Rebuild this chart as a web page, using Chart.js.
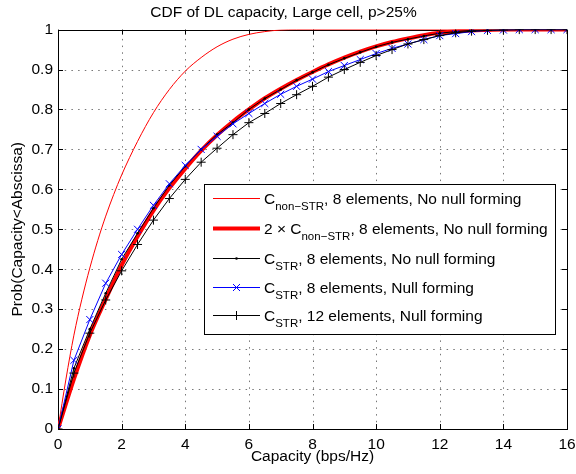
<!DOCTYPE html>
<html>
<head>
<meta charset="utf-8">
<script src="https://cdn.jsdelivr.net/npm/chart.js@4.4.1/dist/chart.umd.min.js"></script>
<style>
html, body { margin: 0; padding: 0; background: #fff; }
#wrap { width: 576px; height: 474px; }
</style>
</head>
<body>
<div id="wrap"><canvas id="cdf" width="576" height="474"></canvas></div>
<script>
const titleText = 'CDF of DL capacity, Large cell, p>25%';
const xLabel = 'Capacity (bps/Hz)';
const yLabel = 'Prob(Capacity<Abscissa)';
const FONT = '"Liberation Sans", Arial, Helvetica, sans-serif';
const FS = 15.5;

// thin red curve, sampled a bit denser near the origin
const xSingle = [0, 0.25, 0.5, 0.75, 1, 1.25, 1.5, 1.75, 2, 2.5, 3, 3.5, 4, 4.5, 5, 5.5, 6, 6.5, 7, 7.5, 8, 10, 12, 14, 16];
const cdfSingle = [0, 0.125, 0.235, 0.325, 0.403, 0.472, 0.533, 0.587, 0.636, 0.72, 0.792, 0.85, 0.896, 0.93, 0.957, 0.976, 0.988, 0.995, 0.999, 1, 1, 1, 1, 1, 1];

// the other curves share one x grid (markers every 0.5)
const xStep = [0, 0.5, 1, 1.5, 2, 2.5, 3, 3.5, 4, 4.5, 5, 5.5, 6, 6.5, 7, 7.5, 8,
               8.5, 9, 9.5, 10, 10.5, 11, 11.5, 12, 12.5, 13, 13.5, 14, 14.5, 15, 15.5, 16];
const cdfDouble = [0, 0.125, 0.235, 0.325, 0.41, 0.482, 0.547, 0.603, 0.652, 0.697, 0.736, 0.77, 0.8, 0.828, 0.852, 0.874, 0.894,
                   0.913, 0.93, 0.945, 0.958, 0.969, 0.978, 0.986, 0.992, 0.996, 0.998, 0.999, 1, 1, 1, 1, 1];
const cdfStr8 = [0, 0.152, 0.25, 0.34, 0.425, 0.49, 0.553, 0.61, 0.658, 0.7, 0.737, 0.767, 0.8, 0.8275, 0.85, 0.873, 0.893,
                 0.912, 0.928, 0.943, 0.957, 0.968, 0.976, 0.984, 0.991, 0.995, 0.998, 0.999, 1, 1, 1, 1, 1];
const cdfStr8Null = [0, 0.172, 0.274, 0.365, 0.437, 0.5, 0.56, 0.614, 0.66, 0.7, 0.733, 0.764, 0.79, 0.815, 0.838, 0.858, 0.876,
                     0.895, 0.91, 0.925, 0.94, 0.953, 0.964, 0.975, 0.985, 0.99, 0.995, 0.998, 0.999, 1, 1, 1, 1];
const cdfStr12Null = [0, 0.14, 0.24, 0.323, 0.396, 0.462, 0.523, 0.577, 0.625, 0.668, 0.703, 0.737, 0.767, 0.79, 0.815, 0.837, 0.858,
                      0.881, 0.9, 0.918, 0.935, 0.95, 0.964, 0.975, 0.985, 0.992, 0.996, 0.998, 0.999, 1, 1, 1, 1];

// legend rows: main text, subscript, rest
const legendItems = [
    { pre: 'C', sub: 'non\u2212STR', post: ', 8 elements, No null forming' },
    { pre: '2 \u00d7 C', sub: 'non\u2212STR', post: ', 8 elements, No null forming' },
    { pre: 'C', sub: 'STR', post: ', 8 elements, No null forming' },
    { pre: 'C', sub: 'STR', post: ', 8 elements, Null forming' },
    { pre: 'C', sub: 'STR', post: ', 12 elements, Null forming' }
];

const pts = (xs, ys) => xs.map((x, i) => ({ x: x, y: ys[i] }));

const datasets = [
    { data: pts(xSingle, cdfSingle), borderColor: '#ff0000', borderWidth: 1, pointRadius: 0,
      cubicInterpolationMode: 'monotone', order: 5 },
    { data: pts(xStep, cdfDouble), borderColor: '#ff0000', borderWidth: 4, pointRadius: 0,
      cubicInterpolationMode: 'monotone', order: 4 },
    { data: pts(xStep, cdfStr8), borderColor: '#000', borderWidth: 1, pointStyle: 'circle', pointRadius: 1.3,
      pointBackgroundColor: '#000', pointBorderColor: '#000', pointBorderWidth: 0, order: 3 },
    { data: pts(xStep, cdfStr8Null), borderColor: '#0000ff', borderWidth: 1, pointStyle: 'crossRot', pointRadius: 5,
      pointBorderColor: '#0000ff', pointBorderWidth: 1, order: 2 },
    { data: pts(xStep, cdfStr12Null), borderColor: '#000', borderWidth: 1, pointStyle: 'cross', pointRadius: 4.5,
      pointBorderColor: '#000', pointBorderWidth: 1, order: 1 }
];

// dotted grid, box and inward tick marks (drawn under the data, like matlab)
const framePlugin = {
    id: 'frame',
    beforeDatasetsDraw(chart) {
        const { ctx, chartArea: a, scales: { x, y } } = chart;
        ctx.save();
        ctx.lineWidth = 1;
        ctx.strokeStyle = '#777';
        ctx.setLineDash([1.5, 5.2]);
        x.ticks.forEach(t => {
            const px = Math.round(x.getPixelForValue(t.value)) + 0.5;
            ctx.beginPath(); ctx.moveTo(px, a.bottom); ctx.lineTo(px, a.top); ctx.stroke();
        });
        y.ticks.forEach(t => {
            const py = Math.round(y.getPixelForValue(t.value)) + 0.5;
            ctx.beginPath(); ctx.moveTo(a.left, py); ctx.lineTo(a.right, py); ctx.stroke();
        });
        ctx.setLineDash([]);
        ctx.strokeStyle = '#000';
        x.ticks.forEach(t => {
            const px = Math.round(x.getPixelForValue(t.value)) + 0.5;
            ctx.beginPath();
            ctx.moveTo(px, a.bottom); ctx.lineTo(px, a.bottom - 5);
            ctx.moveTo(px, a.top); ctx.lineTo(px, a.top + 5);
            ctx.stroke();
        });
        y.ticks.forEach(t => {
            const py = Math.round(y.getPixelForValue(t.value)) + 0.5;
            ctx.beginPath();
            ctx.moveTo(a.left, py); ctx.lineTo(a.left + 5, py);
            ctx.moveTo(a.right, py); ctx.lineTo(a.right - 5, py);
            ctx.stroke();
        });
        ctx.strokeRect(Math.round(a.left) + 0.5, Math.round(a.top) + 0.5,
                       Math.round(a.right - a.left), Math.round(a.bottom - a.top));
        ctx.restore();
    }
};

function drawMarker(ctx, style, cx, cy, color) {
    ctx.strokeStyle = color;
    ctx.fillStyle = color;
    ctx.lineWidth = 1;
    ctx.beginPath();
    if (style === 'dot') {
        ctx.arc(cx, cy, 1.3, 0, Math.PI * 2);
        ctx.fill();
    } else if (style === 'x') {
        ctx.moveTo(cx - 3.5, cy - 3.5); ctx.lineTo(cx + 3.5, cy + 3.5);
        ctx.moveTo(cx - 3.5, cy + 3.5); ctx.lineTo(cx + 3.5, cy - 3.5);
        ctx.stroke();
    } else if (style === 'plus') {
        ctx.moveTo(cx - 4.5, cy); ctx.lineTo(cx + 4.5, cy);
        ctx.moveTo(cx, cy - 4.5); ctx.lineTo(cx, cy + 4.5);
        ctx.stroke();
    }
}

// legend with subscripts
const legendPlugin = {
    id: 'subLegend',
    afterDraw(chart) {
        const ctx = chart.ctx;
        const box = { left: 204.5, top: 184.5, w: 351, h: 150 };
        const rows = [198, 228, 258, 287, 315];
        const styles = [
            { color: '#ff0000', width: 1, marker: null },
            { color: '#ff0000', width: 4, marker: null },
            { color: '#000', width: 1, marker: 'dot' },
            { color: '#0000ff', width: 1, marker: 'x' },
            { color: '#000', width: 1, marker: 'plus' }
        ];
        ctx.save();
        ctx.fillStyle = '#fff';
        ctx.fillRect(box.left, box.top, box.w, box.h);
        ctx.strokeStyle = '#000';
        ctx.lineWidth = 1;
        ctx.strokeRect(box.left, box.top, box.w, box.h);
        legendItems.forEach((item, i) => {
            const cy = rows[i] + 0.5;
            const s = styles[i];
            ctx.strokeStyle = s.color;
            ctx.lineWidth = s.width;
            ctx.beginPath(); ctx.moveTo(213, cy); ctx.lineTo(260, cy); ctx.stroke();
            if (s.marker) drawMarker(ctx, s.marker, 236.5, cy, s.color);

            ctx.fillStyle = '#000';
            ctx.textBaseline = 'alphabetic';
            ctx.textAlign = 'left';
            let tx = 264;
            const base = rows[i] + 5.5;
            ctx.font = FS + 'px ' + FONT;
            ctx.fillText(item.pre, tx, base);
            tx += ctx.measureText(item.pre).width;
            ctx.font = '11.5px ' + FONT;
            ctx.fillText(item.sub, tx, base + 6);
            tx += ctx.measureText(item.sub).width;
            ctx.font = FS + 'px ' + FONT;
            ctx.fillText(item.post, tx, base);
        });
        ctx.restore();
    }
};

new Chart(document.getElementById('cdf'), {
    type: 'line',
    data: { datasets: datasets },
    plugins: [framePlugin, legendPlugin],
    options: {
        responsive: false,
        animation: false,
        events: [],
        layout: { padding: { left: 0, right: 9, top: 0, bottom: 0 } },
        scales: {
            x: {
                type: 'linear',
                min: 0,
                max: 16,
                ticks: { stepSize: 2, color: '#000', padding: 6, font: { family: FONT, size: FS } },
                grid: { display: false, drawTicks: false, tickLength: 0 },
                border: { display: false },
                title: { display: true, text: xLabel, color: '#000', font: { family: FONT, size: FS },
                         padding: { top: 0, bottom: 8 } },
                afterFit: s => { s.height = 45; s.paddingLeft = 0; s.paddingRight = 0; }
            },
            y: {
                min: 0,
                max: 1,
                ticks: { stepSize: 0.1, color: '#000', padding: 5, font: { family: FONT, size: FS },
                         callback: v => String(Math.round(v * 10) / 10) },
                grid: { display: false, drawTicks: false, tickLength: 0 },
                border: { display: false },
                title: { display: true, text: yLabel, color: '#000', font: { family: FONT, size: FS },
                         padding: { top: 8, bottom: 0 } },
                afterFit: s => { s.width = 58; s.paddingTop = 0; s.paddingBottom = 0; }
            }
        },
        plugins: {
            legend: { display: false },
            tooltip: { enabled: false },
            title: { display: true, text: titleText, color: '#000', font: { family: FONT, size: FS, weight: 'normal' },
                     padding: { top: 3, bottom: 8 } }
        }
    }
});
</script>
</body>
</html>
